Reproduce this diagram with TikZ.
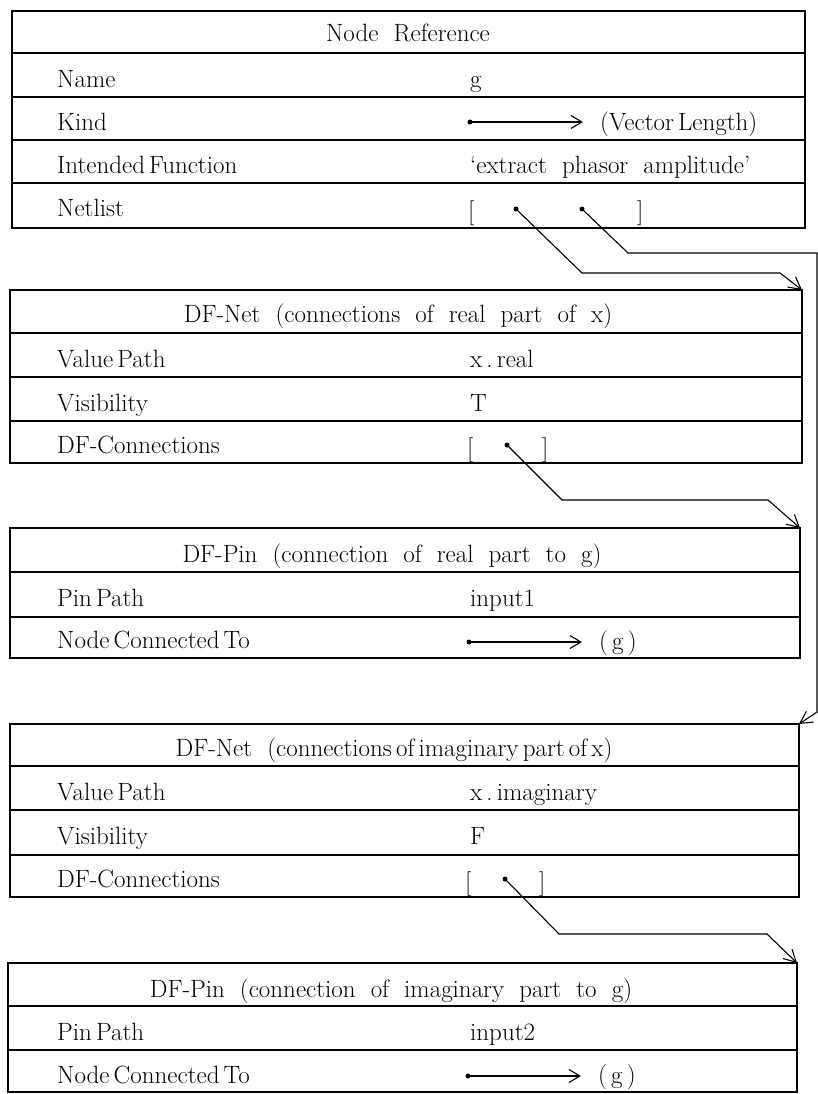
\documentclass[tikz,border=0pt]{standalone}
\usetikzlibrary{arrows.meta}
\begin{document}
\begin{tikzpicture}[x=1pt,y=-1pt,
  frame/.style={line width=2.2pt},
  rowline/.style={line width=1.3pt},
  txt/.style={inner sep=0pt, font=\fontsize{25}{30}\selectfont},
  lbl/.style={txt, anchor=base west},
  hdr/.style={txt, anchor=base},
  dotmark/.style={circle, fill, inner sep=0pt, minimum size=5pt},
  ptr/.style={line width=1.1pt, -{Straight Barb[length=11pt,width=13pt,line width=1.1pt]}},
  link/.style={line width=1.1pt, -{Straight Barb[length=12pt,width=13pt,line width=1.1pt]}}
]
\useasboundingbox (0,0) rectangle (818,1094);

% ---------- Node Reference ----------
\coordinate (b1ne) at (805,11);
\draw[frame] (12,11) rectangle (805,228);
\foreach \y in {53,97,140,183} \draw[rowline] (12,\y) -- (805,\y);
\node[hdr] (h1) at (408,42) {Node\ \ Reference};
\node[lbl] (l11) at (57,88) {Name};
\node[lbl] (v11) at (470,88) {g};
\node[lbl] (l12) at (57,131) {Kind};
\node[dotmark] (kd1) at (470,122) {};
\coordinate (ke1) at (583,122);
\draw[ptr] (kd1.center) -- (ke1);
\node[lbl] (v12) at (600,131) {(Vector\,Length)};
\node[lbl] (l13) at (57,174) {Intended\,Function};
\node[lbl] (v13) at (470,174) {`extract\ \ phasor\ \ amplitude'};
\node[lbl] (l14) at (57,216) {Netlist};
\node[lbl] (ob1) at (468,219) {[};
\node[lbl] (cb1) at (637,219) {]};
\node[dotmark] (nd1) at (516,209) {};
\node[dotmark] (nd2) at (582,209) {};

% ---------- DF-Net (real) ----------
\coordinate (b2ne) at (802,290);
\draw[frame] (10,290) rectangle (802,463);
\foreach \y in {333,377,421} \draw[rowline] (10,\y) -- (802,\y);
\node[hdr] (h2) at (398,322) {DF-Net\ \ (connections\ \ of\ \ real\ \ part\ \ of\ \ x)};
\node[lbl] (l21) at (57,367) {Value\,Path};
\node[lbl] (v21) at (470,367) {x\,.\,real};
\node[lbl] (l22) at (57,411) {Visibility};
\node[lbl] (v22) at (470,411) {T};
\node[lbl] (l23) at (57,453) {DF-Connections};
\node[lbl] (ob2) at (467,456) {[};
\node[lbl] (cb2) at (542,456) {]};
\node[dotmark] (cd2) at (507,445) {};

% ---------- DF-Pin (real) ----------
\coordinate (b3ne) at (800,528);
\draw[frame] (10,528) rectangle (800,658);
\foreach \y in {572,617} \draw[rowline] (10,\y) -- (800,\y);
\node[hdr] (h3) at (392,562) {DF-Pin\ \ (connection\ \ of\ \ real\ \ part\ \ to\ \ g)};
\node[lbl] (l31) at (57,606) {Pin\,Path};
\node[lbl] (v31) at (470,606) {input1};
\node[lbl] (l32) at (57,648) {Node\,Connected\,To};
\node[dotmark] (pd3) at (469,642) {};
\coordinate (pe3) at (582,642);
\draw[ptr] (pd3.center) -- (pe3);
\node[lbl] (v32) at (599,649) {(\,g\,)};

% ---------- DF-Net (imaginary) ----------
\coordinate (b4ne) at (799,724);
\draw[frame] (10,724) rectangle (799,897);
\foreach \y in {766,810,855} \draw[rowline] (10,\y) -- (799,\y);
\node[hdr] (h4) at (394,756) {DF-Net\ \ (connections\,of\,imaginary\,part\,of\,x)};
\node[lbl] (l41) at (57,800) {Value\,Path};
\node[lbl] (v41) at (470,800) {x\,.\,imaginary};
\node[lbl] (l42) at (57,844) {Visibility};
\node[lbl] (v42) at (470,844) {F};
\node[lbl] (l43) at (57,887) {DF-Connections};
\node[lbl] (ob4) at (465,890) {[};
\node[lbl] (cb4) at (539,890) {]};
\node[dotmark] (cd4) at (505,879) {};

% ---------- DF-Pin (imaginary) ----------
\coordinate (b5ne) at (797,963);
\draw[frame] (8,963) rectangle (797,1092);
\foreach \y in {1006,1050} \draw[rowline] (8,\y) -- (797,\y);
\node[hdr] (h5) at (391,997) {DF-Pin\ \ (connection\ \ of\ \ imaginary\ \ part\ \ to\ \ g)};
\node[lbl] (l51) at (57,1040) {Pin\,Path};
\node[lbl] (v51) at (470,1040) {input2};
\node[lbl] (l52) at (57,1083) {Node\,Connected\,To};
\node[dotmark] (pd5) at (468,1076) {};
\coordinate (pe5) at (581,1076);
\draw[ptr] (pd5.center) -- (pe5);
\node[lbl] (v52) at (598,1083) {(\,g\,)};

% ---------- pointers between records ----------
\draw[link] (nd1.center) -- (582,273) -- (780,273) -- (b2ne);
\draw[link] (nd2.center) -- (628,253) -- (817,253) -- (817,712) -- (b4ne);
\draw[link] (cd2.center) -- (562,500) -- (768,500) -- (b3ne);
\draw[link] (cd4.center) -- (559,934) -- (767,934) -- (b5ne);
\end{tikzpicture}
\end{document}
